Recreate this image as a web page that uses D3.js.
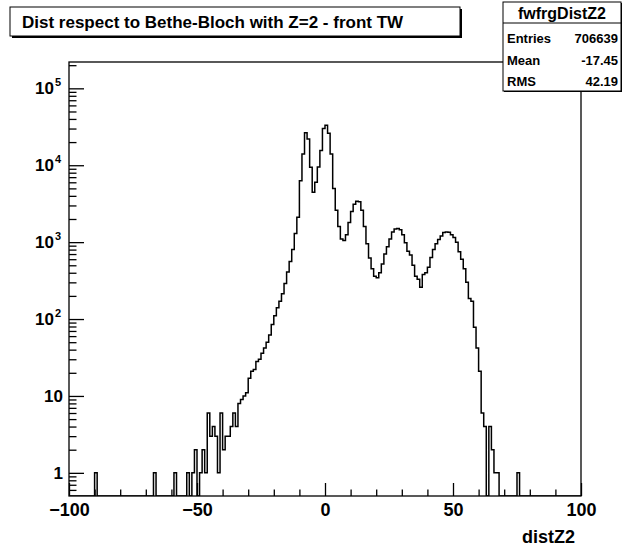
<!DOCTYPE html>
<html>
<head>
<meta charset="utf-8">
<script src="https://cdn.jsdelivr.net/npm/d3@7"></script>
<style>
  html, body { margin: 0; padding: 0; background: #fff; }
  svg { display: block; }
  text { font-family: "Liberation Sans", Arial, Helvetica, sans-serif; font-weight: bold; fill: #000; }
</style>
</head>
<body>
<svg id="chart" width="625" height="547"></svg>
<script>
// ---- data -------------------------------------------------------------
const histName   = "fwfrgDistZ2";
const histTitle  = "Dist respect to Bethe-Bloch with Z=2 - front TW";
const xAxisTitle = "distZ2";
const statLabels = ["Entries", "Mean", "RMS"];
const statValues = ["706639", "-17.45", "42.19"];

// histogram range and bin width (200 bins of width 1)
const xRange   = [-100, 100];
const binWidth = 1;

// bin contents, from the bin [-100,-99] up to [99,100]
const counts = [
  0, 0, 0, 0, 0, 0, 0, 0, 0, 0, 1, 0, 0, 0, 0, 0, 0, 0, 0, 0,                       // -100 .. -81
  0, 0, 0, 0, 0, 0, 0, 0, 0, 0, 0, 0, 0, 1, 0, 0, 0, 0, 0, 0,                       //  -80 .. -61
  0, 1, 0, 0, 0, 0, 1, 0, 1, 2, 0, 1, 2, 1, 6, 3, 4, 3, 1, 6,                       //  -60 .. -41
  2, 3, 3, 4, 6, 4, 8, 9, 10, 11, 17, 21, 22, 28, 30, 36, 42, 50, 62, 85,           //  -40 .. -21
  110, 140, 170, 214, 290, 410, 560, 800, 1300, 2100,                               //  -20 .. -11
  6300, 14000, 26500, 22000, 9400, 4450, 6000, 9500, 15500, 30000,                  //  -10 ..  -1
  33000, 26000, 14000, 5000, 2600, 1600, 1100, 1050, 1250, 1800,                    //    0 ..   9
  2500, 3100, 3400, 3350, 2600, 1600, 950, 620, 450, 360,                           //   10 ..  19
  345, 400, 520, 700, 870, 1100, 1350, 1480, 1500, 1450,                            //   20 ..  29
  1250, 980, 760, 680, 500, 360, 330, 260, 380, 400,                                //   30 ..  39
  470, 630, 800, 950, 1080, 1200, 1330, 1350, 1340, 1250,                           //   40 ..  49
  1150, 1000, 750, 600, 450, 300, 185, 170, 78, 42,                                 //   50 ..  59
  21, 6, 4, 0, 4, 2, 1, 1, 0, 0, 0, 0, 0, 0, 0, 1, 0, 0, 0, 0,                      //   60 ..  79
  0, 0, 0, 0, 0, 0, 0, 0, 0, 0, 0, 0, 0, 0, 0, 0, 0, 0, 0, 0                        //   80 ..  99
];

const yRange     = [0.5, 2.2e5];
const yMajor     = [1, 10, 100, 1000, 10000, 100000];
const xMajor     = [-100, -50, 0, 50, 100];
const xMinorStep = 10;

// ---- layout -----------------------------------------------------------
const frame = { left: 69, right: 581, top: 62, bottom: 496 };
const svg = d3.select("#chart");

const x = d3.scaleLinear().domain(xRange).range([frame.left, frame.right]);
const y = d3.scaleLog().domain(yRange).range([frame.bottom, frame.top]);

// ---- histogram outline -----------------------------------------------
svg.append("clipPath").attr("id", "frameClip")
  .append("rect")
  .attr("x", frame.left).attr("y", frame.top)
  .attr("width", frame.right - frame.left).attr("height", frame.bottom - frame.top);

// empty bins sit on the bottom of the log frame
const steps = counts.map((c, i) => [xRange[0] + i * binWidth, Math.max(c, yRange[0])]);
steps.push([xRange[1], Math.max(counts[counts.length - 1], yRange[0])]);

const stepLine = d3.line()
  .x(d => x(d[0]))
  .y(d => y(d[1]))
  .curve(d3.curveStepAfter);

svg.append("path")
  .attr("clip-path", "url(#frameClip)")
  .attr("d", stepLine(steps))
  .attr("fill", "none")
  .attr("stroke", "#000")
  .attr("stroke-width", 1.5)
  .attr("stroke-linejoin", "miter");

// ---- axes -------------------------------------------------------------
// minor ticks on the log axis: 2..9 within every decade inside the range
const yMinor = [];
for (let e = -1; e <= 5; e++) {
  for (let m = 2; m <= 9; m++) {
    const v = m * Math.pow(10, e);
    if (v > yRange[0] && v < yRange[1]) yMinor.push(v);
  }
}
const xMinor = d3.range(xRange[0], xRange[1] + 1, xMinorStep).filter(v => !xMajor.includes(v));

const yAxisMinor = svg.append("g")
  .attr("transform", `translate(${frame.left},0)`)
  .call(d3.axisLeft(y).tickValues(yMinor).tickSize(-7.5).tickFormat(""));
const yAxisMajor = svg.append("g")
  .attr("transform", `translate(${frame.left},0)`)
  .call(d3.axisLeft(y).tickValues(yMajor).tickSize(-15).tickPadding(6));

const xAxisMinor = svg.append("g")
  .attr("transform", `translate(0,${frame.bottom})`)
  .call(d3.axisBottom(x).tickValues(xMinor).tickSize(-6.5).tickFormat(""));
const xAxisMajor = svg.append("g")
  .attr("transform", `translate(0,${frame.bottom})`)
  .call(d3.axisBottom(x).tickValues(xMajor).tickSize(-13).tickPadding(7).tickFormat(d3.format("d")));

[yAxisMinor, yAxisMajor, xAxisMinor, xAxisMajor].forEach(g => {
  g.select(".domain").remove();
  g.selectAll(".tick line").attr("stroke", "#000").attr("stroke-width", 1.3);
});

xAxisMajor.selectAll(".tick text")
  .attr("font-size", 18).attr("dy", "0.72em")
  .style("font-family", "'Liberation Sans', Arial, sans-serif").style("font-weight", "bold");

// power-of-ten labels: 1, 10, then 10 with a superscript exponent
yAxisMajor.selectAll(".tick text").each(function (d) {
  const e = Math.round(Math.log10(d));
  const t = d3.select(this)
    .text(null)
    .attr("font-size", 17)
    .style("font-family", "'Liberation Sans', Arial, sans-serif").style("font-weight", "bold");
  if (e <= 1) {
    t.text(String(d));
  } else {
    t.attr("x", -8);
    t.append("tspan").text("10");
    t.append("tspan").attr("font-size", 11).attr("dy", "-0.75em").attr("dx", 1).text(String(e));
  }
});

// frame
svg.append("rect")
  .attr("x", frame.left).attr("y", frame.top)
  .attr("width", frame.right - frame.left).attr("height", frame.bottom - frame.top)
  .attr("fill", "none").attr("stroke", "#000").attr("stroke-width", 1.3);

// x axis title
svg.append("text")
  .attr("x", 575).attr("y", 543)
  .attr("text-anchor", "end").attr("font-size", 18)
  .text(xAxisTitle);

// ---- title box --------------------------------------------------------
const tBox = { x: 10, y: 7, w: 450, h: 29 };
svg.append("rect")
  .attr("x", tBox.x + 2).attr("y", tBox.y + 2).attr("width", tBox.w).attr("height", tBox.h)
  .attr("fill", "#000");
svg.append("rect")
  .attr("x", tBox.x).attr("y", tBox.y).attr("width", tBox.w).attr("height", tBox.h)
  .attr("fill", "#fff").attr("stroke", "#000").attr("stroke-width", 1);
svg.append("text")
  .attr("x", 22).attr("y", 28)
  .attr("font-size", 17)
  .text(histTitle);

// ---- statistics box ---------------------------------------------------
const sBox = { x: 503, y: 2, w: 118, h: 89, head: 21 };
svg.append("rect")
  .attr("x", sBox.x + 1).attr("y", sBox.y + 1).attr("width", sBox.w).attr("height", sBox.h)
  .attr("fill", "#000");
svg.append("rect")
  .attr("x", sBox.x).attr("y", sBox.y).attr("width", sBox.w).attr("height", sBox.h)
  .attr("fill", "#fff").attr("stroke", "#000").attr("stroke-width", 1);
svg.append("line")
  .attr("x1", sBox.x).attr("x2", sBox.x + sBox.w)
  .attr("y1", sBox.y + sBox.head).attr("y2", sBox.y + sBox.head)
  .attr("stroke", "#000").attr("stroke-width", 1);
svg.append("text")
  .attr("x", sBox.x + sBox.w / 2).attr("y", sBox.y + 17)
  .attr("text-anchor", "middle").attr("font-size", 16)
  .text(histName);

const rowY = [43, 65, 86];
statLabels.forEach((lab, i) => {
  svg.append("text").attr("x", sBox.x + 4).attr("y", rowY[i])
    .attr("font-size", 13).text(lab);
  svg.append("text").attr("x", sBox.x + sBox.w - 3).attr("y", rowY[i])
    .attr("text-anchor", "end").attr("font-size", 13).text(statValues[i]);
});
</script>
</body>
</html>
